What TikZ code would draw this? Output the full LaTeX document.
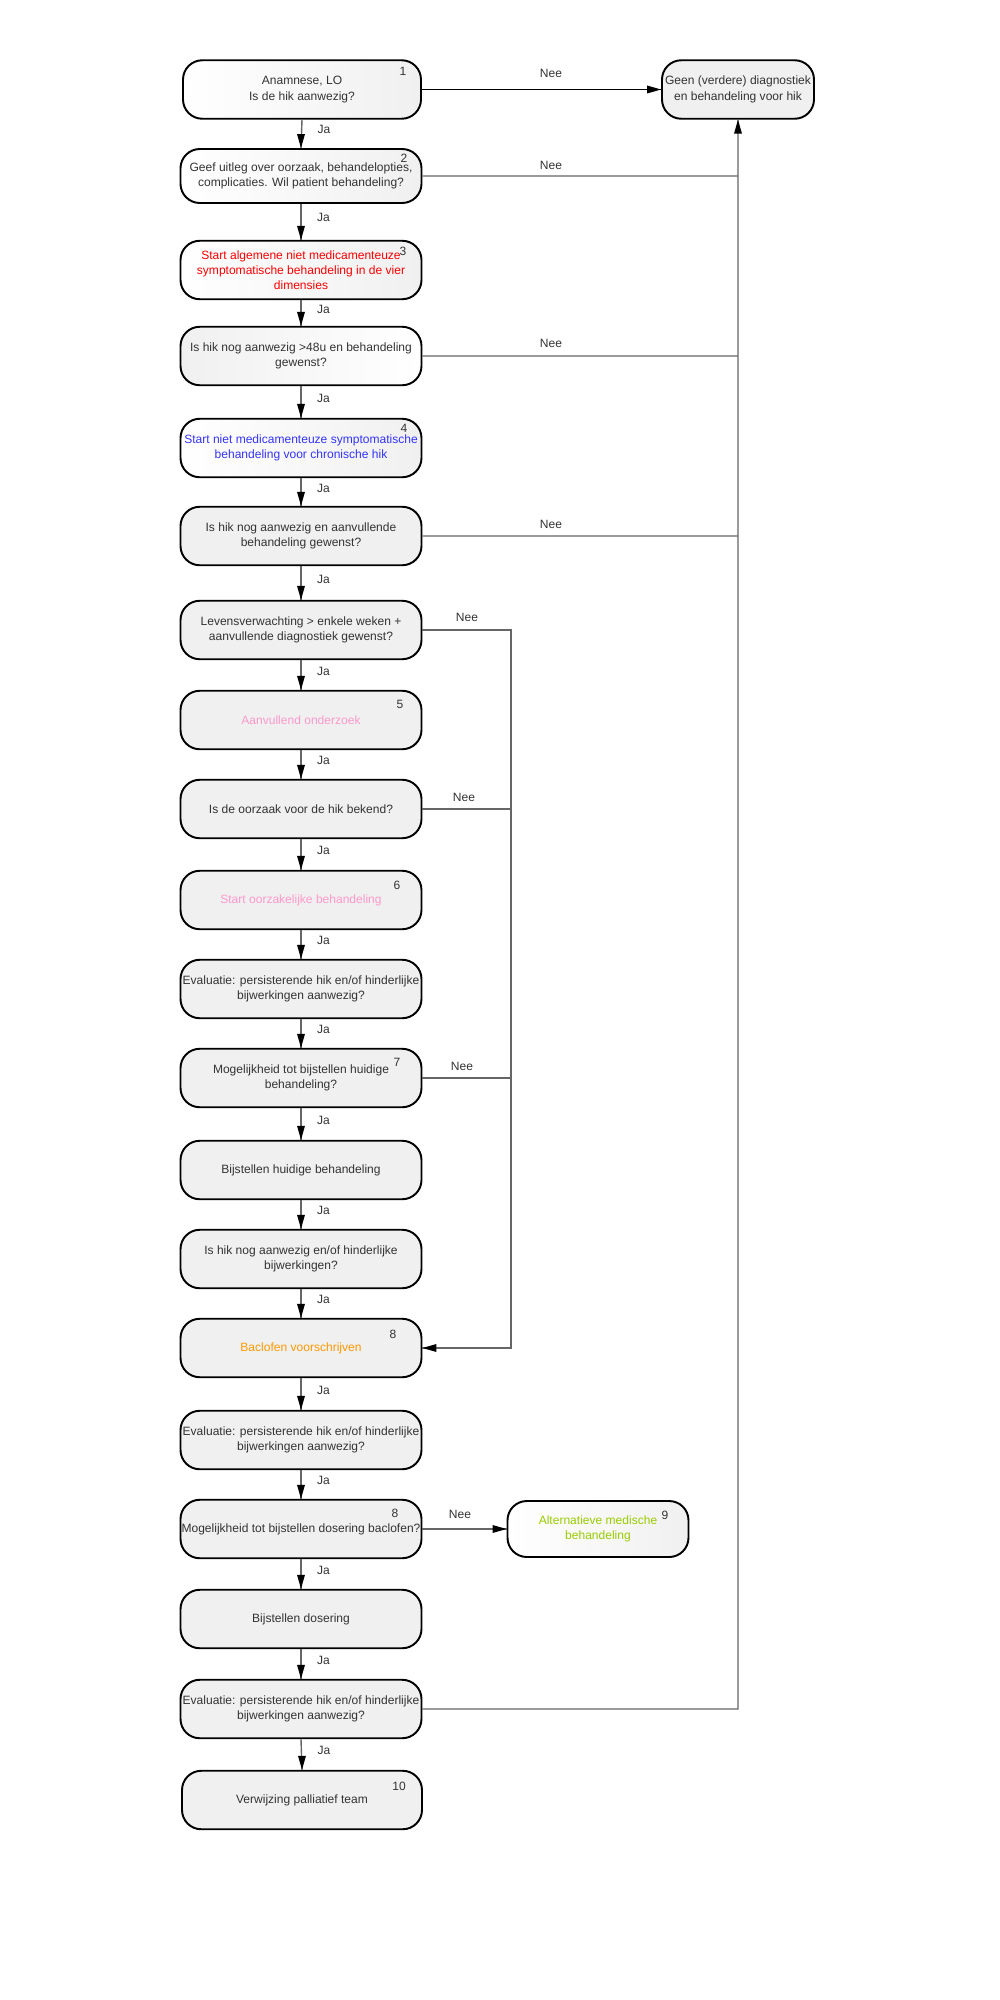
\documentclass[tikz,border=0pt]{standalone}
\usepackage{fontspec}
\setmainfont{Liberation Sans}
\usepackage{tikz}
\definecolor{boxgray}{HTML}{F0F0F0}
\definecolor{txtgray}{HTML}{333333}
\definecolor{linegray}{HTML}{666666}
\definecolor{stapred}{HTML}{FF0000}
\definecolor{stapblue}{HTML}{3333FF}
\definecolor{stappink}{HTML}{FF99CC}
\definecolor{staporange}{HTML}{FF9900}
\definecolor{stapgreen}{HTML}{99CC00}
\tikzset{
  font={\fontsize{6.85pt}{8.7pt}\selectfont}}
\tikzset{
  stap/.style={draw=black, line width=1.1pt, rounded corners=11pt, fill=boxgray,
    minimum width=4.82cm, minimum height=1.17cm, align=center, text=txtgray},
  stapwit/.style={stap, left color=white, middle color=white, right color=boxgray},
  stapgrijs/.style={stap, left color=boxgray, middle color=boxgray, right color=white},
  conn/.style={draw=linegray, line width=0.8pt},
  ja/.style={anchor=west, xshift=0.31cm, yshift=0.08cm, text=txtgray},
  nee/.style={text=txtgray},
  nr/.style={text=txtgray}}

\begin{document}
\begin{tikzpicture}[scale=0.2]
\tikzstyle{every node}+=[inner sep=0pt]
\useasboundingbox (0,0) rectangle (100,-200);
% stappen
\node [stapwit, minimum width=4.76cm] (n1) at (30.2,-8.95) {Anamnese, LO\\Is de hik aanwezig?};
\node [stap, minimum width=3.04cm] (geen) at (73.8,-8.95) {Geen (verdere) diagnostiek\\en behandeling voor hik};
\node [stapwit, minimum height=1.08cm] (n2) at (30.1,-17.6) {Geef uitleg over oorzaak, behandelopties,\\complicaties. Wil patient behandeling?};
\node [stapwit, text=stapred] (n3) at (30.1,-27.0) {Start algemene niet medicamenteuze\\symptomatische behandeling in de vier\\dimensies};
\node [stapgrijs] (n4) at (30.1,-35.6) {Is hik nog aanwezig >48u en behandeling\\gewenst?};
\node [stapwit, text=stapblue] (n5) at (30.1,-44.8) {Start niet medicamenteuze symptomatische\\behandeling voor chronische hik};
\node [stap] (n6) at (30.1,-53.6) {Is hik nog aanwezig en aanvullende\\behandeling gewenst?};
\node [stap] (n7) at (30.1,-63.0) {Levensverwachting > enkele weken +\\aanvullende diagnostiek gewenst?};
\node [stap, text=stappink] (n8) at (30.1,-72.0) {Aanvullend onderzoek};
\node [stap] (n9) at (30.1,-80.9) {Is de oorzaak voor de hik bekend?};
\node [stap, text=stappink] (n10) at (30.1,-90.0) {Start oorzakelijke behandeling};
\node [stap] (n11) at (30.1,-98.9) {Evaluatie: persisterende hik en/of hinderlijke\\bijwerkingen aanwezig?};
\node [stap] (n12) at (30.1,-107.8) {Mogelijkheid tot bijstellen huidige\\behandeling?};
\node [stap] (n13) at (30.1,-117.0) {Bijstellen huidige behandeling};
\node [stap] (n14) at (30.1,-125.9) {Is hik nog aanwezig en/of hinderlijke\\bijwerkingen?};
\node [stap, text=staporange] (n15) at (30.1,-134.8) {Baclofen voorschrijven};
\node [stap] (n16) at (30.1,-144.0) {Evaluatie: persisterende hik en/of hinderlijke\\bijwerkingen aanwezig?};
\node [stap] (n17) at (30.1,-152.9) {Mogelijkheid tot bijstellen dosering baclofen?};
\node [stapwit, text=stapgreen, minimum width=3.62cm, minimum height=1.12cm] (alt) at (59.8,-152.9) {Alternatieve medische\\behandeling};
\node [stap] (n19) at (30.1,-161.9) {Bijstellen dosering};
\node [stap] (n20) at (30.1,-170.9) {Evaluatie: persisterende hik en/of hinderlijke\\bijwerkingen aanwezig?};
\node [stap, minimum width=4.8cm] (n21) at (30.2,-180.0) {Verwijzing palliatief team};
% nummers
\node [nr] (nr1) at (40.3,-7.1) {1};
\node [nr] (nr2) at (40.4,-15.8) {2};
\node [nr] (nr3) at (40.3,-25.1) {3};
\node [nr] (nr4) at (40.4,-42.8) {4};
\node [nr] (nr5) at (40.0,-70.4) {5};
\node [nr] (nr6) at (39.7,-88.5) {6};
\node [nr] (nr7) at (39.7,-106.2) {7};
\node [nr] (nr8) at (39.3,-133.4) {8};
\node [nr] (nr8b) at (39.5,-151.3) {8};
\node [nr] (nr9) at (66.5,-151.5) {9};
\node [nr] (nr10) at (39.9,-178.6) {10};
% Ja
\draw [conn] (n1.south) -- node [ja] (ja1) {Ja} (n2.north);
\fill (n2.north) -- ++(-0.4,1.4) -- ++(0.8,0) -- cycle;
\draw [conn] (n2.south) -- node [ja] (ja2) {Ja} (n3.north);
\fill (n3.north) -- ++(-0.4,1.4) -- ++(0.8,0) -- cycle;
\draw [conn] (n3.south) -- node [ja] (ja3) {Ja} (n4.north);
\fill (n4.north) -- ++(-0.4,1.4) -- ++(0.8,0) -- cycle;
\draw [conn] (n4.south) -- node [ja] (ja4) {Ja} (n5.north);
\fill (n5.north) -- ++(-0.4,1.4) -- ++(0.8,0) -- cycle;
\draw [conn] (n5.south) -- node [ja] (ja5) {Ja} (n6.north);
\fill (n6.north) -- ++(-0.4,1.4) -- ++(0.8,0) -- cycle;
\draw [conn] (n6.south) -- node [ja] (ja6) {Ja} (n7.north);
\fill (n7.north) -- ++(-0.4,1.4) -- ++(0.8,0) -- cycle;
\draw [conn] (n7.south) -- node [ja] (ja7) {Ja} (n8.north);
\fill (n8.north) -- ++(-0.4,1.4) -- ++(0.8,0) -- cycle;
\draw [conn] (n8.south) -- node [ja] (ja8) {Ja} (n9.north);
\fill (n9.north) -- ++(-0.4,1.4) -- ++(0.8,0) -- cycle;
\draw [conn] (n9.south) -- node [ja] (ja9) {Ja} (n10.north);
\fill (n10.north) -- ++(-0.4,1.4) -- ++(0.8,0) -- cycle;
\draw [conn] (n10.south) -- node [ja] (ja10) {Ja} (n11.north);
\fill (n11.north) -- ++(-0.4,1.4) -- ++(0.8,0) -- cycle;
\draw [conn] (n11.south) -- node [ja] (ja11) {Ja} (n12.north);
\fill (n12.north) -- ++(-0.4,1.4) -- ++(0.8,0) -- cycle;
\draw [conn] (n12.south) -- node [ja] (ja12) {Ja} (n13.north);
\fill (n13.north) -- ++(-0.4,1.4) -- ++(0.8,0) -- cycle;
\draw [conn] (n13.south) -- node [ja] (ja13) {Ja} (n14.north);
\fill (n14.north) -- ++(-0.4,1.4) -- ++(0.8,0) -- cycle;
\draw [conn] (n14.south) -- node [ja] (ja14) {Ja} (n15.north);
\fill (n15.north) -- ++(-0.4,1.4) -- ++(0.8,0) -- cycle;
\draw [conn] (n15.south) -- node [ja] (ja15) {Ja} (n16.north);
\fill (n16.north) -- ++(-0.4,1.4) -- ++(0.8,0) -- cycle;
\draw [conn] (n16.south) -- node [ja] (ja16) {Ja} (n17.north);
\fill (n17.north) -- ++(-0.4,1.4) -- ++(0.8,0) -- cycle;
\draw [conn] (n17.south) -- node [ja] (ja17) {Ja} (n19.north);
\fill (n19.north) -- ++(-0.4,1.4) -- ++(0.8,0) -- cycle;
\draw [conn] (n19.south) -- node [ja] (ja19) {Ja} (n20.north);
\fill (n20.north) -- ++(-0.4,1.4) -- ++(0.8,0) -- cycle;
\draw [conn] (n20.south) -- node [ja] (ja20) {Ja} (n21.north);
\fill (n21.north) -- ++(-0.4,1.4) -- ++(0.8,0) -- cycle;
% Nee, rechts
\coordinate (b2) at (n2.east -| geen.south);
\coordinate (b4) at (n4.east -| geen.south);
\coordinate (b6) at (n6.east -| geen.south);
\coordinate (b20) at (n20.east -| geen.south);
\draw [line width=0.8pt] (n1.east) -- (geen.west);
\fill (geen.west) -- ++(-1.4,0.4) -- ++(0,-0.8) -- cycle;
\draw [conn] (n2.east) -- (b2);
\draw [conn] (n4.east) -- (b4);
\draw [conn] (n6.east) -- (b6);
\draw [conn] (n20.east) -- (b20) -- (geen.south);
\fill (geen.south) -- ++(-0.4,-1.4) -- ++(0.8,0) -- cycle;
\node [nee] (nee1) at (55.1,-7.3) {Nee};
\node [nee] (nee2) at (55.1,-16.5) {Nee};
\node [nee] (nee4) at (55.1,-34.3) {Nee};
\node [nee] (nee6) at (55.1,-52.4) {Nee};
% Nee, naar baclofen
\coordinate (k7) at (51.1,-63.0);
\coordinate (k9) at (51.1,-80.9);
\coordinate (k12) at (51.1,-107.8);
\coordinate (k15) at (51.1,-134.8);
\draw [conn] (n7.east) -- (k7) -- (k15) -- (n15.east);
\fill (n15.east) -- ++(1.4,0.4) -- ++(0,-0.8) -- cycle;
\draw [conn] (n9.east) -- (k9);
\draw [conn] (n12.east) -- (k12);
\node [nee] (nee7) at (46.7,-61.7) {Nee};
\node [nee] (nee9) at (46.4,-79.7) {Nee};
\node [nee] (nee12) at (46.2,-106.6) {Nee};
% Nee, alternatief
\draw [conn] (n17.east) -- (alt.west);
\fill (alt.west) -- ++(-1.4,0.4) -- ++(0,-0.8) -- cycle;
\node [nee] (nee17) at (46.0,-151.4) {Nee};
\end{tikzpicture}
\end{document}
